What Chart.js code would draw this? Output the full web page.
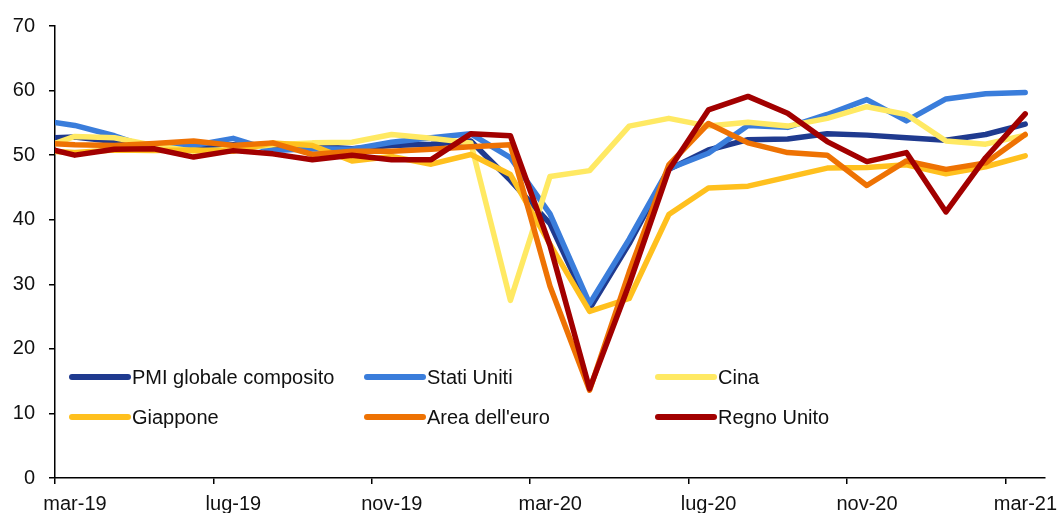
<!DOCTYPE html>
<html lang="it">

<head>
    <meta charset="UTF-8">
    <title>PMI composito</title>
    <style>
        html, body {
            margin: 0;
            padding: 0;
            background: #fff;
        }

        .chart-box {
            width: 1059px;
            height: 513px;
        }
    </style>
</head>

<body>
    <div class="chart-box">
        <canvas id="pmi-chart"></canvas>
    </div>

    <script src="https://cdn.jsdelivr.net/npm/chart.js"></script>
    <script>
        // mesi (feb-19 serve solo per il tratto che entra dal bordo sinistro)
        const months = ['feb-19', 'mar-19', 'apr-19', 'mag-19', 'giu-19', 'lug-19', 'ago-19', 'set-19', 'ott-19',
            'nov-19', 'dic-19', 'gen-20', 'feb-20', 'mar-20', 'apr-20', 'mag-20', 'giu-20', 'lug-20', 'ago-20',
            'set-20', 'ott-20', 'nov-20', 'dic-20', 'gen-21', 'feb-21', 'mar-21'];

        const globale = [52.6, 52.8, 52.1, 51.2, 51.2, 51.6, 51.3, 51.4, 51.0, 51.5, 51.7, 52.2, 46.1, 39.4, 26.2,
            36.3, 47.8, 50.8, 52.4, 52.5, 53.3, 53.1, 52.7, 52.3, 53.2, 54.8];
        const statiUniti = [55.5, 54.6, 53.0, 50.9, 51.5, 52.6, 50.7, 51.0, 50.9, 52.0, 52.7, 53.3, 49.6, 40.9, 27.0,
            37.0, 47.9, 50.3, 54.6, 54.3, 56.3, 58.6, 55.3, 58.7, 59.5, 59.7];
        const cina = [50.7, 52.9, 52.7, 51.5, 50.6, 50.9, 51.6, 51.9, 52.0, 53.2, 52.6, 51.9, 27.5, 46.7, 47.6,
            54.5, 55.7, 54.5, 55.1, 54.5, 55.7, 57.5, 56.3, 52.2, 51.7, 53.1];
        const giappone = [50.7, 50.4, 50.8, 50.7, 50.8, 50.6, 51.9, 51.5, 49.1, 49.8, 48.6, 50.1, 47.0, 36.2, 25.8,
            27.8, 40.8, 44.9, 45.2, 46.6, 48.0, 48.1, 48.5, 47.1, 48.2, 49.9];
        const areaEuro = [51.9, 51.6, 51.5, 51.8, 52.2, 51.5, 51.9, 50.1, 50.6, 50.6, 50.9, 51.3, 51.6, 29.7, 13.6,
            31.9, 48.5, 54.9, 51.9, 50.4, 50.0, 45.3, 49.1, 47.8, 48.8, 53.2];
        const regnoUnito = [51.5, 50.0, 50.9, 51.0, 49.7, 50.7, 50.2, 49.3, 50.0, 49.3, 49.3, 53.3, 53.0, 36.0, 13.8,
            30.0, 47.7, 57.0, 59.1, 56.5, 52.1, 49.0, 50.4, 41.2, 49.6, 56.4];

        const seriesNames = ['PMI globale composito', 'Stati Uniti', 'Cina', 'Giappone', "Area dell'euro", 'Regno Unito'];
        const seriesValues = [globale, statiUniti, cina, giappone, areaEuro, regnoUnito];
        const seriesColors = ['#1f3a8f', '#3a7ddb', '#ffe963', '#ffc01e', '#ee7203', '#a20000'];

        const yTicks = [0, 10, 20, 30, 40, 50, 60, 70];
        const labelEvery = 4;

        const FONT = { family: '"Liberation Sans", Arial, sans-serif', size: 20 };

        // ogni mese ha indice i-1, cosi mar-19 = 0 e l'asse va da -0.5 a 24.5
        const datasets = seriesNames.map((name, s) => ({
            label: name,
            data: seriesValues[s].map((v, i) => ({ x: i - 1, y: v })),
            borderColor: seriesColors[s],
            backgroundColor: seriesColors[s],
            borderWidth: 5.5,
            borderJoinStyle: 'round',
            borderCapStyle: 'round',
            pointRadius: 0,
            tension: 0,
            order: seriesNames.length - s
        }));

        // legenda su 3 colonne dentro l'area del grafico
        const legendPlugin = {
            id: 'pmiLegend',
            afterDraw(chart) {
                const ctx = chart.ctx;
                const area = chart.chartArea;
                const colX = [17, 312, 603];
                const rowY = [area.bottom - 101, area.bottom - 61];
                ctx.save();
                ctx.font = FONT.size + 'px ' + FONT.family;
                ctx.textBaseline = 'middle';
                ctx.fillStyle = '#111';
                seriesNames.forEach((name, i) => {
                    const x = area.left + colX[i % 3];
                    const y = rowY[Math.floor(i / 3)];
                    ctx.strokeStyle = seriesColors[i];
                    ctx.lineWidth = 6;
                    ctx.lineCap = 'round';
                    ctx.beginPath();
                    ctx.moveTo(x, y);
                    ctx.lineTo(x + 56, y);
                    ctx.stroke();
                    ctx.fillText(name, x + 60, y + 1);
                });
                ctx.restore();
            }
        };

        new Chart(document.getElementById('pmi-chart'), {
            type: 'line',
            data: { datasets: datasets },
            options: {
                responsive: true,
                maintainAspectRatio: false,
                animation: false,
                layout: { padding: { top: 26, right: 14, left: 0, bottom: 0 } },
                plugins: {
                    legend: { display: false },
                    tooltip: { enabled: false }
                },
                scales: {
                    x: {
                        type: 'linear',
                        min: -0.5,
                        max: 24.5,
                        afterBuildTicks(scale) {
                            // tacche sui confini dei mesi, ogni 4 mesi
                            const t = [];
                            for (let k = 0; k < months.length - 1; k += labelEvery) t.push({ value: k - 0.5 });
                            scale.ticks = t;
                        },
                        afterFit(scale) { scale.height = 35; },
                        grid: { drawOnChartArea: false, drawTicks: true, tickLength: 6, color: '#000', lineWidth: 1.5 },
                        border: { display: true, color: '#000', width: 1.5 },
                        ticks: {
                            autoSkip: false,
                            maxRotation: 0,
                            padding: 8,
                            labelOffset: 20,
                            color: '#111',
                            font: FONT,
                            callback: (value) => months[Math.round(value + 0.5) + 1]
                        }
                    },
                    y: {
                        min: 0,
                        max: 70,
                        afterBuildTicks(scale) {
                            scale.ticks = yTicks.map(v => ({ value: v }));
                        },
                        afterFit(scale) { scale.width = 55; },
                        grid: { drawOnChartArea: false, drawTicks: true, tickLength: 6, color: '#000', lineWidth: 1.5 },
                        border: { display: true, color: '#000', width: 1.5 },
                        ticks: {
                            padding: 14,
                            color: '#111',
                            font: FONT
                        }
                    }
                }
            },
            plugins: [legendPlugin]
        });
    </script>
</body>

</html>
